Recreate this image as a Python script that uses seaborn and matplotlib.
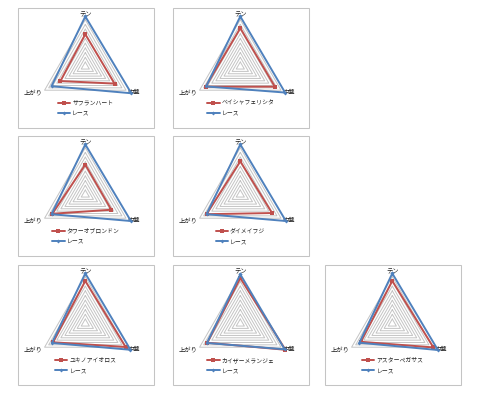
import numpy as np
import matplotlib
matplotlib.use('Agg')
import matplotlib.pyplot as plt
import seaborn as sns
import pandas as pd
from matplotlib.patches import Rectangle

# ---- data ----
axis_labels = ['テン', '中盤', '上がり']
horses = ['サフランハート', 'ベイシャフェリシタ', 'タワーオブロンドン', 'ダイメイフジ',
          'ユキノアイオロス', 'カイザーメランジェ', 'アスターペガサス']
race_label = 'レース'
ten_horse = [0.69, 0.82, 0.64, 0.71, 0.91, 0.97, 0.91]
chuban_horse = [0.72, 0.85, 0.64, 0.78, 0.99, 1.11, 1.01]
agari_horse = [0.61, 0.85, 0.81, 0.83, 0.79, 0.81, 0.77]
ten_race = [1.07, 1.07, 1.07, 1.07, 1.07, 1.05, 1.07]
chuban_race = [1.13, 1.10, 1.12, 1.12, 1.11, 1.09, 1.12]
agari_race = [0.83, 0.84, 0.83, 0.83, 0.82, 0.82, 0.81]
grid_levels = [0.1, 0.2, 0.3, 0.4, 0.5, 0.6, 0.7, 0.8, 0.9, 1.0]

sns.set_style('white')
plt.rcParams['font.family'] = ['Noto Sans CJK JP', 'DejaVu Sans']

W, H = 480, 393
fig = plt.figure(figsize=(4.8, 3.93), dpi=100)

panel_pos = [(17.7, 8.3), (172.7, 8.3), (17.7, 136.3), (172.7, 136.3),
             (17.7, 265.3), (172.7, 265.3), (324.7, 265.3)]
PW, PH = 136.5, 119.5
RING_PX = 47.0
RMAX = 1.2
angles = np.deg2rad([0, 120, 240, 360])
RED = '#c0504d'
BLUE = '#4f81bd'
TXT = '#222222'
FS_AX = 4.5
FS_LEG = 4.2

for i, name in enumerate(horses):
    px, py = panel_pos[i]
    fig.patches.append(Rectangle((px / W, 1 - (py + PH) / H), PW / W, PH / H,
                                 transform=fig.transFigure, fill=False,
                                 edgecolor='#c4c4c4', lw=0.75))
    cx, cy = px + 67.6, py + 58.4
    R = RMAX * RING_PX
    ax = fig.add_axes([(cx - R) / W, 1 - (cy + R) / H, 2 * R / W, 2 * R / H],
                      projection='polar')
    ax.set_theta_zero_location('N')
    ax.set_theta_direction(-1)
    ax.grid(False)
    ax.spines['polar'].set_visible(False)
    ax.patch.set_alpha(0)

    for lev in grid_levels:
        ax.plot(angles, [lev] * 4, color='#c4c4c4', lw=0.7, zorder=1)

    h_vals = [ten_horse[i], chuban_horse[i], agari_horse[i], ten_horse[i]]
    r_vals = [ten_race[i], chuban_race[i], agari_race[i], ten_race[i]]
    df_h = pd.DataFrame({'theta': angles, 'r': h_vals})
    df_r = pd.DataFrame({'theta': angles, 'r': r_vals})
    sns.lineplot(data=df_h, x='theta', y='r', sort=False, estimator=None, ax=ax,
                 color=RED, lw=1.4, marker='s', markersize=3.0, markeredgewidth=0,
                 label=name, zorder=3)
    sns.lineplot(data=df_r, x='theta', y='r', sort=False, estimator=None, ax=ax,
                 color=BLUE, lw=1.4, marker='D', markersize=2.0, markeredgewidth=0,
                 label=race_label, zorder=4)
    for ln in ax.lines:
        ln.set_clip_on(False)
    ax.set_ylim(0, RMAX)
    ax.set_xticks([])
    ax.set_yticks([])
    ax.set_xlabel('')
    ax.set_ylabel('')

    # axis labels at outer ring vertices
    ax.annotate(axis_labels[0], xy=(0, 1.0), xytext=(0, 5.7), textcoords='offset pixels',
                ha='center', va='center', fontsize=FS_AX, color=TXT)
    ax.annotate(axis_labels[1], xy=(np.deg2rad(120), 1.0), xytext=(1.5, -2),
                textcoords='offset pixels', ha='left', va='center', fontsize=FS_AX, color=TXT)
    ax.annotate(axis_labels[2], xy=(np.deg2rad(240), 1.0), xytext=(-2.4, -2),
                textcoords='offset pixels', ha='right', va='center', fontsize=FS_AX, color=TXT)

    leg = ax.legend(loc='center', bbox_to_anchor=((px + 68) / W, 1 - (py + 99.7) / H),
                    bbox_transform=fig.transFigure, frameon=False, fontsize=FS_LEG,
                    handlelength=2.1, handletextpad=0.3, labelspacing=0.9,
                    borderpad=0, borderaxespad=0)
    for t in leg.get_texts():
        t.set_color(TXT)

fig.savefig('out.png', dpi=100, facecolor='white')
